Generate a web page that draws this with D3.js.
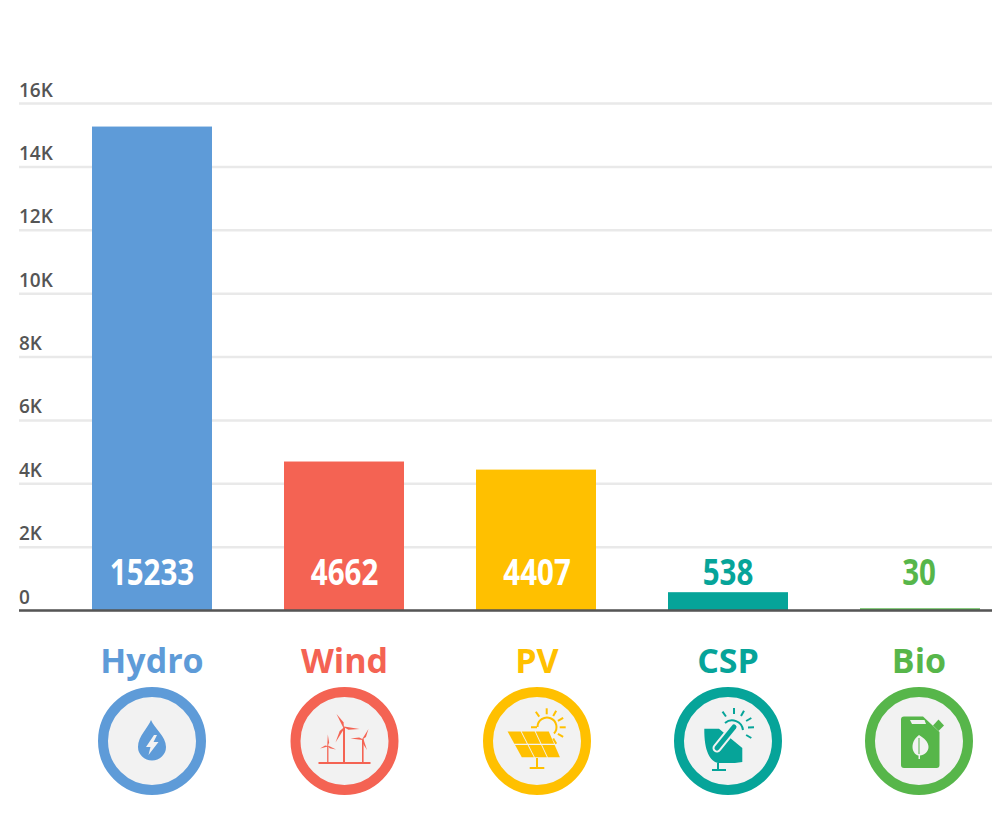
<!DOCTYPE html>
<html>
<head>
<meta charset="utf-8">
<script src="https://cdn.jsdelivr.net/npm/d3@7"></script>
<style>
body { margin: 0; background: #fff; }
text { font-family: "Open Sans", sans-serif; }
</style>
</head>
<body>
<div id="chart-area"></div>
<script>
var categories = ["Hydro", "Wind", "PV", "CSP", "Bio"];
var values = [15233, 4662, 4407, 538, 30];
var tickValues = [0, 2000, 4000, 6000, 8000, 10000, 12000, 14000, 16000];
var tickLabels = ["0", "2K", "4K", "6K", "8K", "10K", "12K", "14K", "16K"];
var colors = ["#5e9bd8", "#f46353", "#ffc000", "#06a499", "#57b64a"];
var innerLabel = [true, true, true, false, false];
var nudge = [0, 0.5, 1, 0, -1];

var width = 992, height = 816;
var panel = "#f2f2f2";

var svg = d3.select("#chart-area").append("svg")
    .attr("width", width)
    .attr("height", height)
    .style("display", "block");

var x = d3.scaleBand()
    .domain(categories)
    .range([92, 980])
    .paddingInner(0.375)
    .paddingOuter(0);

var y = d3.scaleLinear()
    .domain([0, 16000])
    .range([610, 103]);

function center(i) {
    return x(categories[i]) + x.bandwidth() / 2 + nudge[i];
}

// gridlines and tick labels
var yAxis = d3.axisRight(y)
    .tickValues(tickValues)
    .tickFormat((d, i) => tickLabels[i])
    .tickSize(973);

var yAxisGroup = svg.append("g")
    .attr("transform", "translate(19,0)")
    .call(yAxis);

yAxisGroup.select(".domain").remove();
yAxisGroup.selectAll("line")
    .attr("stroke", "#e9e9e9")
    .attr("stroke-width", 2.5);
yAxisGroup.selectAll("text")
    .attr("x", 0)
    .attr("y", -7)
    .attr("dy", 0)
    .attr("text-anchor", "start")
    .attr("font-size", "19px")
    .attr("font-weight", 600)
    .attr("fill", "#555")
    .style("font-family", "'Open Sans', sans-serif");

// the stroke keeps the tiny Bio bar visible above the baseline
svg.selectAll(".bar").data(values).enter().append("rect")
    .attr("class", "bar")
    .attr("x", (d, i) => x(categories[i]) + 0.75)
    .attr("y", (d) => y(d))
    .attr("width", x.bandwidth() - 1.5)
    .attr("height", (d) => y(0) - y(d))
    .attr("fill", (d, i) => colors[i])
    .attr("stroke", (d, i) => colors[i])
    .attr("stroke-width", 1.5);

// baseline
svg.append("line")
    .attr("x1", 19)
    .attr("x2", width)
    .attr("y1", y(0) + 0.5)
    .attr("y2", y(0) + 0.5)
    .attr("stroke", "#555")
    .attr("stroke-width", 2.5);

// narrow value labels, the font has no condensed cut so it gets squeezed
svg.selectAll(".value").data(values).enter().append("text")
    .attr("class", "value")
    .attr("transform", (d, i) => "translate(" + center(i) + ",584.5) scale(0.82,1)")
    .attr("text-anchor", "middle")
    .attr("font-size", "36px")
    .attr("font-weight", 700)
    .attr("fill", (d, i) => innerLabel[i] ? "#fff" : colors[i])
    .text((d) => d);

svg.selectAll(".category").data(categories).enter().append("text")
    .attr("class", "category")
    .attr("x", (d, i) => center(i))
    .attr("y", 673)
    .attr("text-anchor", "middle")
    .attr("font-size", "34px")
    .attr("font-weight", 700)
    .attr("fill", (d, i) => colors[i])
    .text((d) => d);

// badges under the categories
var badges = svg.selectAll(".badge").data(categories).enter().append("g")
    .attr("class", "badge")
    .attr("transform", (d, i) => "translate(" + center(i) + ",741)");

badges.append("circle")
    .attr("r", 49)
    .attr("fill", panel)
    .attr("stroke", (d, i) => colors[i])
    .attr("stroke-width", 10);

var icons = [hydroIcon, windIcon, pvIcon, cspIcon, bioIcon];
badges.each(function(d, i) {
    icons[i](d3.select(this), colors[i]);
});

function hydroIcon(g, c) {
    g.append("path").attr("fill", c)
        .attr("d", "M-1,-21C2,-13 14,-5 14,6A14,13.5 0 0 1 -14,6C-14,-5 -4,-13 -1,-21Z");
    g.append("path").attr("fill", panel)
        .attr("d", "M2,-6L-6,6L-1.5,6L-3.5,14L6.5,1L1.5,1L5,-6Z");
}

function turbine(g, c, hx, hy, base, tips, sw) {
    g.append("line").attr("x1", hx).attr("x2", hx).attr("y1", hy).attr("y2", base)
        .attr("stroke", c).attr("stroke-width", sw);
    tips.forEach(function(t) {
        var dx = t[0] - hx, dy = t[1] - hy, len = Math.sqrt(dx * dx + dy * dy);
        var nx = -dy / len * sw, ny = dx / len * sw;
        g.append("path").attr("fill", c)
            .attr("d", "M" + hx + "," + hy + "L" + (hx + dx * 0.3 + nx) + "," + (hy + dy * 0.3 + ny) + "L" + t[0] + "," + t[1] + "L" + (hx - nx * 0.4) + "," + (hy - ny * 0.4) + "Z");
    });
}

function windIcon(g, c) {
    g.append("line").attr("x1", -26).attr("x2", 26).attr("y1", 22).attr("y2", 22)
        .attr("stroke", c).attr("stroke-width", 2);
    turbine(g, c, -0.5, -13.7, 22, [[-8, -27], [15, -12], [-9, 1.5]], 2);
    turbine(g, c, 18.3, -1.7, 22, [[24, -12], [6, -2.5], [22.5, 9]], 1.6);
    turbine(g, c, -16.7, 5, 22, [[-16.7, -6.5], [-24.5, 7.5], [-8.5, 8.5]], 1.3);
}

function pvIcon(g, c) {
    var tl = [-30.3, -10.3], tr = [12, -10.3], bl = [-15.3, 17], br = [23.7, 17];
    function pt(u, v) {
        var a = [tl[0] + (tr[0] - tl[0]) * u, tl[1] + (tr[1] - tl[1]) * u];
        var b = [bl[0] + (br[0] - bl[0]) * u, bl[1] + (br[1] - bl[1]) * u];
        return (a[0] + (b[0] - a[0]) * v) + "," + (a[1] + (b[1] - a[1]) * v);
    }
    for (var r = 0; r < 2; r++) {
        for (var k = 0; k < 3; k++) {
            var u0 = k / 3 + 0.012, u1 = (k + 1) / 3 - 0.012;
            var v0 = r / 2 + 0.025, v1 = (r + 1) / 2 - 0.025;
            g.append("path").attr("fill", c)
                .attr("d", "M" + pt(u0, v0) + "L" + pt(u1, v0) + "L" + pt(u1, v1) + "L" + pt(u0, v1) + "Z");
        }
    }
    g.append("path").attr("fill", "none").attr("stroke", c).attr("stroke-width", 2)
        .attr("d", "M0,17V27M-7.3,27H7.3");
    g.append("path").attr("fill", "none").attr("stroke", c).attr("stroke-width", 2)
        .attr("d", "M0.5,-14A9.5,9.5 0 1 1 17,-7.5M-6,-13.7H0");
    sunRays(g, c, 9.7, -13.7, 13, 19, [-125, -90, -60, -30, 0, 30, 60, 155]);
}

function sunRays(g, c, cx, cy, r0, r1, angles) {
    angles.forEach(function(a) {
        var t = a * Math.PI / 180;
        g.append("line")
            .attr("x1", cx + r0 * Math.cos(t)).attr("y1", cy + r0 * Math.sin(t))
            .attr("x2", cx + r1 * Math.cos(t)).attr("y2", cy + r1 * Math.sin(t))
            .attr("stroke", c).attr("stroke-width", 2);
    });
}

function cspIcon(g, c) {
    g.append("path").attr("fill", c)
        .attr("d", "M-23.7,-12.3H-9L14.3,7V21C6,22.5 -2,22 -10,22C-18,20 -24,10 -23.7,-12.3Z");
    g.append("path").attr("fill", "none").attr("stroke", c).attr("stroke-width", 2)
        .attr("d", "M-10,22V29M-16,29H-2");
    g.append("line").attr("x1", -11).attr("y1", 7).attr("x2", 6).attr("y2", -14)
        .attr("stroke", panel).attr("stroke-width", 9).attr("stroke-linecap", "round");
    g.append("line").attr("x1", -11).attr("y1", 7).attr("x2", 6).attr("y2", -14)
        .attr("stroke", c).attr("stroke-width", 5).attr("stroke-linecap", "round");
    g.append("path").attr("fill", "none").attr("stroke", c).attr("stroke-width", 2)
        .attr("d", "M-3,-18A11,11 0 0 1 15,-11");
    sunRays(g, c, 6, -13, 14, 20, [-125, -90, -60, -30, -2, 30]);
}

function bioIcon(g, c) {
    g.append("path").attr("fill", c)
        .attr("d", "M-15,-24.5H4L20.5,-9V24A3,3 0 0 1 17.5,27H-15A3,3 0 0 1 -18,24V-21.5A3,3 0 0 1 -15,-24.5Z");
    g.append("path").attr("fill", c)
        .attr("d", "M19.5,-21.5L25,-15.5L19.5,-10L14,-15.5Z");
    g.append("path").attr("fill", panel)
        .attr("d", "M-9,-21H5.5L7,-17H-7Z");
    g.append("path").attr("fill", panel)
        .attr("d", "M0,-6C5,-3 9.5,1 9.5,6C9.5,11 5,14 1,14.5L1,18H-0.5L-0.5,14.5C-4,14 -6.5,10 -6.5,6C-6.5,1 -4,-3 0,-6Z");
    g.append("line").attr("x1", 0).attr("x2", 0).attr("y1", -3).attr("y2", 13)
        .attr("stroke", c).attr("stroke-width", 1);
}
</script>
</body>
</html>
